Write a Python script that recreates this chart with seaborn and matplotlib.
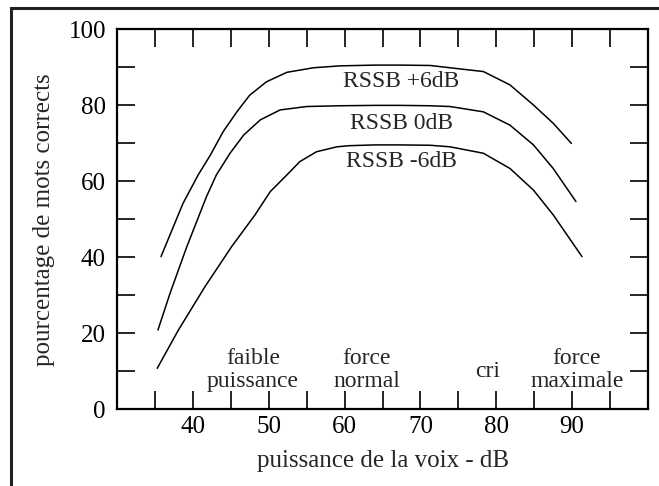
import matplotlib
matplotlib.use("Agg")
import matplotlib.pyplot as plt
from matplotlib.patches import Rectangle
import pandas as pd
import seaborn as sns

# values
x_plus6 = [35.8, 38.7, 40.7, 42.3, 44.0, 45.8, 47.5, 49.7, 52.4, 55.9, 59.4, 64.0, 67.3, 71.3,
           73.9, 78.3, 81.8, 84.9, 87.5, 89.9]
y_plus6 = [40.1, 54.1, 61.6, 66.8, 73.0, 78.2, 82.6, 86.1, 88.6, 89.8, 90.3, 90.5, 90.5, 90.4,
           89.8, 88.8, 85.3, 80.0, 75.2, 69.9]

x_zero = [35.4, 37.0, 39.2, 41.8, 43.1, 44.9, 46.7, 48.9, 51.5, 55.0, 59.4, 64.0, 67.3, 71.3,
          73.9, 78.3, 81.8, 84.9, 87.5, 90.5]
y_zero = [20.8, 30.5, 42.7, 55.9, 61.6, 67.3, 72.1, 76.1, 78.7, 79.6, 79.8, 79.9, 79.9, 79.8,
          79.6, 78.2, 74.7, 69.5, 63.3, 54.6]

x_minus6 = [35.3, 38.1, 41.6, 45.1, 48.2, 50.2, 52.4, 54.1, 56.3, 59.0, 60.7, 64.0, 67.3, 71.3,
            73.9, 78.3, 81.8, 84.9, 87.5, 91.3]
y_minus6 = [10.7, 20.8, 32.2, 42.7, 51.1, 57.2, 61.6, 65.1, 67.7, 69.0, 69.3, 69.5, 69.5, 69.4,
            69.0, 67.3, 63.3, 57.6, 51.1, 40.1]

curve_names = ["RSSB +6dB", "RSSB 0dB", "RSSB -6dB"]
curve_label_x = [67.4, 67.5, 67.5]
curve_label_y = [84.7, 73.8, 63.6]

zone_names = ["faible\npuissance", "force\nnormal", "cri", "force\nmaximale"]
zone_x = [47.9, 62.9, 78.8, 90.6]
zone_y = [5.8, 5.8, 8.4, 5.8]

x_ticks = list(range(30, 101, 5))
x_ticklabels = ["", "", "40", "", "50", "", "60", "", "70", "", "80", "", "90", "", ""]
y_ticks = list(range(0, 101, 10))
y_ticklabels = ["0", "", "20", "", "40", "", "60", "", "80", "", "100"]

df = pd.concat([
    pd.DataFrame({"x": x_plus6, "y": y_plus6, "serie": curve_names[0]}),
    pd.DataFrame({"x": x_zero, "y": y_zero, "serie": curve_names[1]}),
    pd.DataFrame({"x": x_minus6, "y": y_minus6, "serie": curve_names[2]}),
])

sns.set_style("ticks")
plt.rcParams["font.family"] = ["Liberation Serif", "DejaVu Serif"]

fig = plt.figure(figsize=(6.59, 4.86), dpi=100)
ax = fig.add_axes([117 / 659, 1 - 409 / 486, 531 / 659, 380 / 486])

sns.lineplot(data=df, x="x", y="y", hue="serie", palette=["black"] * 3,
             legend=False, sort=False, estimator=None, linewidth=1.1, ax=ax)
for ln in ax.get_lines():
    ln.set_solid_joinstyle("round")

ax.set_xlim(30, 100)
ax.set_ylim(0, 100)
ax.set_xticks(x_ticks)
ax.set_xticklabels(x_ticklabels)
ax.set_yticks(y_ticks)
ax.set_yticklabels(y_ticklabels)
ax.tick_params(direction="in", length=13, width=1.2, top=True, right=True,
               labelsize=18, colors="black")
ax.tick_params(axis="y", pad=8)
ax.tick_params(axis="x", pad=5)
for s in ax.spines.values():
    s.set_linewidth(1.6)
    s.set_color("black")

ax.set_xlabel("puissance de la voix - dB", fontsize=18)
ax.set_ylabel("pourcentage de mots corrects", fontsize=18)
ax.xaxis.set_label_coords(0.501, -0.108)
ax.yaxis.set_label_coords(-0.117, 0.497)

for name, lx, ly in zip(curve_names, curve_label_x, curve_label_y):
    ax.text(lx, ly, name, fontsize=17, ha="center", va="baseline")

for name, zx, zy in zip(zone_names, zone_x, zone_y):
    ax.text(zx, zy, name, fontsize=17, ha="center", va="baseline", linespacing=1.1)

# frame around the whole picture
fig.patches.append(Rectangle((11 / 659, -0.1), 1.2, 1 - 8 / 486 + 0.1,
                             transform=fig.transFigure, fill=False,
                             linewidth=2.2, edgecolor="#222222"))

fig.savefig("out.png", dpi=100)
